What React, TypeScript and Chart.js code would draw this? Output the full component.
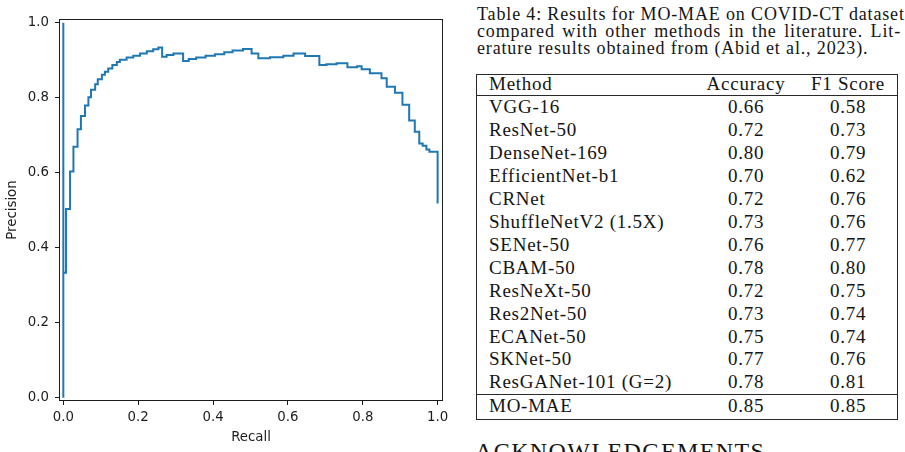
import React, { useEffect, useRef } from "react";
import { Chart, registerables } from "chart.js";

Chart.register(...registerables);

// Precision-recall curve (recall ascending; each point closes a horizontal step)
const RECALL = [
  0, 0, 0.0072, 0.018, 0.027, 0.038, 0.047, 0.058, 0.067, 0.074, 0.085, 0.092,
  0.103, 0.111, 0.12, 0.131, 0.143, 0.151, 0.169, 0.187, 0.205, 0.223, 0.24,
  0.254, 0.264, 0.276, 0.294, 0.32, 0.335, 0.355, 0.38, 0.405, 0.43, 0.452,
  0.48, 0.503, 0.521, 0.552, 0.588, 0.615, 0.646, 0.684, 0.703, 0.73, 0.759,
  0.785, 0.797, 0.819, 0.85, 0.864, 0.886, 0.906, 0.924, 0.939, 0.951, 0.96,
  0.97, 0.978, 1.0, 1.0,
];
const PRECISION = [
  0, 1.0, 0.333, 0.503, 0.603, 0.669, 0.716, 0.751, 0.779, 0.801, 0.821, 0.836,
  0.849, 0.861, 0.869, 0.878, 0.887, 0.895, 0.901, 0.907, 0.912, 0.918, 0.924,
  0.929, 0.934, 0.909, 0.914, 0.918, 0.898, 0.903, 0.907, 0.912, 0.916, 0.921,
  0.926, 0.93, 0.918, 0.905, 0.908, 0.912, 0.918, 0.911, 0.887, 0.889, 0.892,
  0.881, 0.884, 0.876, 0.865, 0.852, 0.829, 0.813, 0.781, 0.739, 0.709, 0.678,
  0.672, 0.662, 0.656, 0.518,
];
const X_TICKS = [0, 0.2, 0.4, 0.6, 0.8, 1.0];
const Y_TICKS = [0, 0.2, 0.4, 0.6, 0.8, 1.0];

// Results table
const CAPTION_LINES = [
  "Table 4: Results for MO-MAE on COVID-CT dataset",
  "compared with other methods in the literature. Lit-",
  "erature results obtained from (Abid et al., 2023).",
];
const HEADERS = ["Method", "Accuracy", "F1 Score"];
const METHODS = [
  "VGG-16",
  "ResNet-50",
  "DenseNet-169",
  "EfficientNet-b1",
  "CRNet",
  "ShuffleNetV2 (1.5X)",
  "SENet-50",
  "CBAM-50",
  "ResNeXt-50",
  "Res2Net-50",
  "ECANet-50",
  "SKNet-50",
  "ResGANet-101 (G=2)",
];
const ACCURACY = [0.66, 0.72, 0.8, 0.7, 0.72, 0.73, 0.76, 0.78, 0.72, 0.73, 0.75, 0.77, 0.78];
const F1_SCORE = [0.58, 0.73, 0.79, 0.62, 0.76, 0.76, 0.77, 0.8, 0.75, 0.74, 0.74, 0.76, 0.81];
const OURS_METHOD = "MO-MAE";
const OURS_ACCURACY = 0.85;
const OURS_F1 = 0.85;
const NEXT_HEADING = "ACKNOWLEDGEMENTS";

const AXIS_FONT = { family: "'DejaVu Sans', sans-serif", size: 13.3 };
const INK = "#1c1c1c";

const framePlugin = {
  id: "frame",
  afterDraw(chart: any) {
    const { ctx, chartArea } = chart;
    const { left, top, right, bottom } = chartArea;
    ctx.save();
    ctx.strokeStyle = INK;
    ctx.lineWidth = 1;
    ctx.strokeRect(left - 0.5, top - 0.5, right - left + 1, bottom - top + 1);
    ctx.restore();
  },
};

function PrCurve() {
  const ref = useRef<HTMLCanvasElement | null>(null);
  useEffect(() => {
    if (!ref.current) return;
    const points = RECALL.map((r, i) => ({ x: r, y: PRECISION[i] }));
    const chart = new Chart(ref.current, {
      type: "line",
      data: {
        datasets: [
          {
            data: points,
            borderColor: "#1f77b4",
            borderWidth: 2,
            pointRadius: 0,
            stepped: "after",
            fill: false,
          },
        ],
      },
      options: {
        animation: false,
        responsive: false,
        devicePixelRatio: 1,
        layout: { padding: { top: 20, right: 18, left: 0, bottom: 0 } },
        plugins: { legend: { display: false }, tooltip: { enabled: false } },
        scales: {
          x: {
            type: "linear",
            min: -0.0089,
            max: 1.0117,
            afterBuildTicks: (s: any) => {
              s.ticks = X_TICKS.map((v) => ({ value: v }));
            },
            afterFit: (s: any) => {
              s.height = 52;
            },
            ticks: {
              callback: (v: any) => Number(v).toFixed(1),
              color: INK,
              font: AXIS_FONT,
              padding: 4.5,
              maxRotation: 0,
              autoSkip: false,
            },
            grid: { drawOnChartArea: false, drawTicks: true, tickLength: 5, color: INK },
            border: { display: false },
            title: {
              display: true,
              text: "Recall",
              color: INK,
              font: AXIS_FONT,
              padding: { top: 0, bottom: 6 },
            },
          },
          y: {
            type: "linear",
            min: -0.0062,
            max: 1.0071,
            afterBuildTicks: (s: any) => {
              s.ticks = Y_TICKS.map((v) => ({ value: v }));
            },
            afterFit: (s: any) => {
              s.width = 60;
            },
            ticks: {
              callback: (v: any) => Number(v).toFixed(1),
              color: INK,
              font: AXIS_FONT,
              padding: 6,
              autoSkip: false,
            },
            grid: { drawOnChartArea: false, drawTicks: true, tickLength: 5, color: INK },
            border: { display: false },
            title: {
              display: true,
              text: "Precision",
              color: INK,
              font: AXIS_FONT,
              padding: { top: 4.7, bottom: 0 },
            },
          },
        },
      },
      plugins: [framePlugin],
    });
    return () => chart.destroy();
  }, []);
  return (
    <canvas
      ref={ref}
      width={460}
      height={452}
      style={{ position: "absolute", left: 0, top: 0, width: 460, height: 452, display: "block" }}
    />
  );
}

const SERIF = "'Liberation Serif', 'Times New Roman', serif";
const TEXT_INK = "#141414";
const RULE = "#2a2a2a";
const ROW_H = 22.95;
const NAME_LEFT = 12;
const ACC_CENTER = 745 - 476;
const F1_CENTER = 847 - 476;

function Row({ cells, top, height }: { cells: string[]; top: number; height: number }) {
  const cellStyle: React.CSSProperties = {
    position: "absolute",
    top: 0,
    height,
    lineHeight: `${height}px`,
    whiteSpace: "nowrap",
  };
  return (
    <div style={{ position: "absolute", left: 0, top, width: "100%", height }}>
      <div style={{ ...cellStyle, left: NAME_LEFT }}>{cells[0]}</div>
      <div style={{ ...cellStyle, left: ACC_CENTER - 60, width: 120, textAlign: "center" }}>{cells[1]}</div>
      <div style={{ ...cellStyle, left: F1_CENTER - 60, width: 120, textAlign: "center" }}>{cells[2]}</div>
    </div>
  );
}

function ResultsTable() {
  const tableTop = 74;
  const headerH = 20;
  const bodyTop = headerH + 1;
  const bodyH = ROW_H * METHODS.length;
  const oursTop = bodyTop + bodyH + 1;
  const oursH = 419 - tableTop - oursTop;
  return (
    <div
      style={{
        position: "absolute",
        left: 476,
        top: tableTop,
        width: 422,
        height: 419 - tableTop + 1,
        boxSizing: "border-box",
        border: `1px solid ${RULE}`,
        fontFamily: SERIF,
        fontSize: 19,
        letterSpacing: "0.75px",
        color: TEXT_INK,
      }}
    >
      <Row cells={HEADERS} top={-1} height={headerH} />
      <div style={{ position: "absolute", left: 0, right: 0, top: headerH, height: 1, background: RULE }} />
      {METHODS.map((m, i) => (
        <Row
          key={m}
          cells={[m, ACCURACY[i].toFixed(2), F1_SCORE[i].toFixed(2)]}
          top={bodyTop + i * ROW_H}
          height={ROW_H}
        />
      ))}
      <div style={{ position: "absolute", left: 0, right: 0, top: oursTop - 1, height: 1, background: RULE }} />
      <Row cells={[OURS_METHOD, OURS_ACCURACY.toFixed(2), OURS_F1.toFixed(2)]} top={oursTop - 1} height={oursH} />
    </div>
  );
}

function Caption() {
  return (
    <div
      style={{
        position: "absolute",
        left: 477,
        top: 5.5,
        width: 424,
        fontFamily: SERIF,
        fontSize: 18,
        lineHeight: "17.2px",
        letterSpacing: "0.85px",
        color: TEXT_INK,
      }}
    >
      {CAPTION_LINES.map((line, i) => (
        <div
          key={i}
          style={{
            whiteSpace: "nowrap",
            textAlign: i < CAPTION_LINES.length - 1 ? "justify" : "left",
            textAlignLast: i < CAPTION_LINES.length - 1 ? "justify" : "left",
            height: 17.2,
          }}
        >
          {line}
        </div>
      ))}
    </div>
  );
}

export default function App() {
  return (
    <div
      style={{
        position: "fixed",
        left: 0,
        top: 0,
        width: 905,
        height: 452,
        overflow: "hidden",
        background: "#fff",
      }}
    >
      <PrCurve />
      <Caption />
      <ResultsTable />
      <div
        style={{
          position: "absolute",
          left: 475,
          top: 439,
          fontFamily: SERIF,
          fontSize: 24,
          lineHeight: "24px",
          letterSpacing: "1.4px",
          color: TEXT_INK,
          whiteSpace: "nowrap",
        }}
      >
        {NEXT_HEADING}
      </div>
    </div>
  );
}
